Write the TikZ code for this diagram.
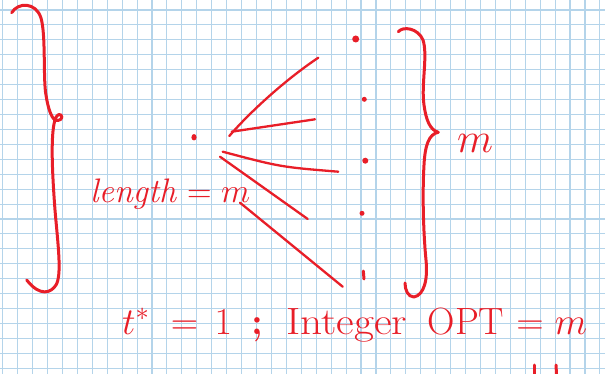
\RequirePackage{fix-cm}
\documentclass[tikz,border=0pt]{standalone}
\usepackage{amsmath, amssymb}
\usetikzlibrary{calc}
\definecolor{ink}{RGB}{232,30,40}
\definecolor{gridblue}{RGB}{180,212,234}

\begin{document}
\begin{tikzpicture}[x=1pt,y=-1pt,
    inkline/.style={ink, line width=3pt, line cap=round, line join=round},
    spoke/.style={ink, line width=2.3pt, line cap=round},
    inkdot/.style={ink, fill=ink, draw=none},
    hand/.style={ink, inner sep=0pt, anchor=base west, font=\fontsize{38}{42}\selectfont}]
    \useasboundingbox (0,0) rectangle (605,374);
    \fill[white] (0,0) rectangle (605,374);
    % squared paper
    \foreach \k in {0,...,40}
        \draw[gridblue, line width=1.1pt] ({2.7+14.93*\k},0) -- ({2.7+14.93*\k},374);
    \foreach \k in {0,...,24}
        \draw[gridblue, line width=1.1pt] (0,{10+14.93*\k}) -- (605,{10+14.93*\k});
    % left brace
    \draw[inkline] (11.7,12.7) .. controls (18,2) and (36,2) .. (41,18)
        .. controls (46,35) and (43,80) .. (46,95)
        .. controls (48,108) and (51,117) .. (55,120)
        .. controls (59,122) and (64,118) .. (61,115)
        .. controls (58,113) and (55,117) .. (54,124)
        .. controls (51,140) and (52,170) .. (55,210)
        .. controls (58,245) and (62,275) .. (56,285)
        .. controls (51,293) and (40,297) .. (26.7,280);
    % right brace
    \draw[inkline] (398.3,31.7) .. controls (403,26) and (418,28) .. (423,40)
        .. controls (428,55) and (421,85) .. (424,105)
        .. controls (426,120) and (430,130) .. (438.3,132.3)
        .. controls (429,134) and (425,145) .. (424,165)
        .. controls (422,200) and (424,240) .. (426,260)
        .. controls (428,280) and (424,295) .. (414,297)
        .. controls (408,297) and (405,290) .. (405,283);
    % points
    \coordinate (O) at (194,137.3);
    \coordinate (V) at (229.3,136);
    \coordinate (A) at (318.3,57.7);
    \coordinate (B1) at (231.7,131.7);
    \coordinate (B) at (315,119.3);
    \coordinate (C1) at (222.7,151.7);
    \coordinate (C) at (338.3,171.7);
    \coordinate (D1) at (220,156.7);
    \coordinate (D) at (307.7,219);
    \coordinate (E1) at (240,202.7);
    \coordinate (E) at (342.7,286.7);
    \fill[inkdot] (O) ellipse (2.6 and 3.2);
    \draw[spoke] (V) .. controls (250,112) and (285,80) .. (A);
    \draw[spoke] (B1) -- (B);
    \draw[spoke] (C1) .. controls (280.5,167) .. (C);
    \draw[spoke] (D1) -- (D);
    \draw[spoke] (E1) -- (E);
    % column of points
    \fill[inkdot] (355.7,39) circle (3.5);
    \fill[inkdot] (364.3,99.3) circle (2.5);
    \fill[inkdot] (365.3,160.7) circle (3);
    \fill[inkdot] (362,213.3) circle (2.5);
    \draw[inkline] (363.3,271) -- (364,279);
    % labels
    \node[hand, font=\fontsize{34}{38}\selectfont] (len) at (90,203) {\textit{length} $=m$};
    \node[hand, font=\fontsize{42}{46}\selectfont] (mr) at (457,153) {$m$};
    \node[hand] (ts) at (122,334) {$t^*$};
    \node[hand, anchor=base] (eqa) at (184.5,334) {$=$};
    \node[hand, anchor=base] (one) at (223.3,334) {$1$};
    \node[hand, anchor=base] (semi) at (257,334) {\textbf{;}};
    \node[hand] (intg) at (286,334) {\scalebox{1.14}[1]{Integer}};
    \node[hand, anchor=base] (opt) at (466,334) {OPT};
    \node[hand, anchor=base] (eqb) at (530,334) {$=$};
    \node[hand, anchor=base] (mb) at (571,334) {$m$};
    \draw[inkline] (534,365) -- (534,374);
    \draw[inkline] (556,365) -- (556.5,374);
\end{tikzpicture}
\end{document}
